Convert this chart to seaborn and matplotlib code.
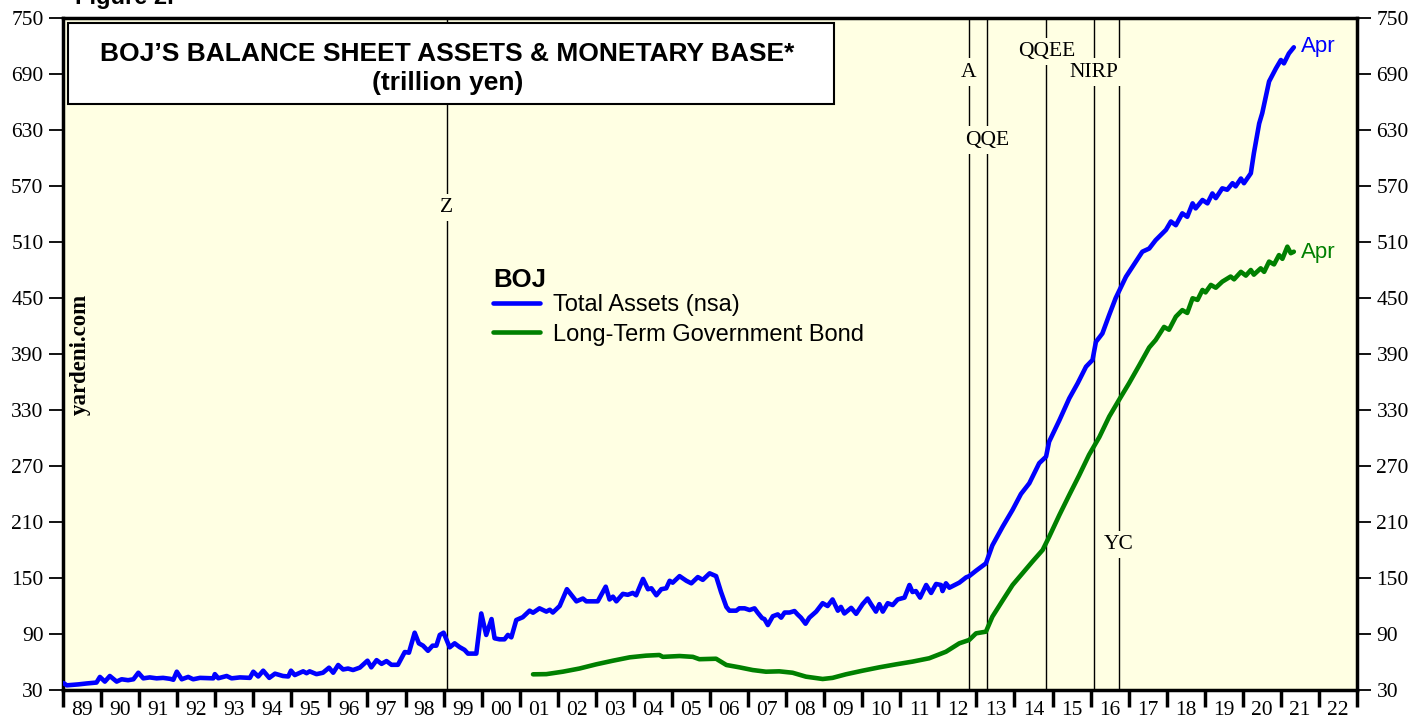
import matplotlib
matplotlib.use("Agg")
import matplotlib.pyplot as plt
import seaborn as sns
import pandas as pd
from matplotlib.patches import Rectangle

# ---------------- data ----------------
assets_year = [
    1989.01, 1989.10, 1989.40, 1989.62, 1989.88, 1989.97, 1990.10, 1990.23, 1990.41, 1990.54,
    1990.71, 1990.85, 1990.98, 1991.11, 1991.28, 1991.46, 1991.63, 1991.81, 1991.90, 1991.99,
    1992.12, 1992.29, 1992.42, 1992.60, 1992.95, 1992.99, 1993.08, 1993.30, 1993.43, 1993.65,
    1993.91, 1994.00, 1994.13, 1994.26, 1994.42, 1994.57, 1994.78, 1994.92, 1994.99, 1995.09,
    1995.31, 1995.40, 1995.48, 1995.66, 1995.83, 1995.99, 1996.10, 1996.23, 1996.36, 1996.49,
    1996.62, 1996.80, 1997.00, 1997.10, 1997.24, 1997.37, 1997.50, 1997.63, 1997.80, 1997.98,
    1998.09, 1998.24, 1998.35, 1998.46, 1998.59, 1998.71, 1998.81, 1998.90, 1999.00, 1999.16,
    1999.29, 1999.42, 1999.55, 1999.64, 1999.86, 1999.99, 2000.12, 2000.26, 2000.34, 2000.47,
    2000.60, 2000.69, 2000.78, 2000.91, 2001.08, 2001.26, 2001.35, 2001.52, 2001.70, 2001.79,
    2001.87, 2002.05, 2002.24, 2002.49, 2002.66, 2002.75, 2003.05, 2003.26, 2003.36, 2003.45,
    2003.54, 2003.71, 2003.84, 2003.97, 2004.06, 2004.24, 2004.37, 2004.46, 2004.59, 2004.72,
    2004.85, 2004.94, 2005.02, 2005.20, 2005.38, 2005.51, 2005.68, 2005.81, 2005.99, 2006.16,
    2006.29, 2006.43, 2006.51, 2006.69, 2006.77, 2006.91, 2007.04, 2007.17, 2007.25, 2007.37,
    2007.43, 2007.52, 2007.65, 2007.78, 2007.87, 2007.96, 2008.09, 2008.22, 2008.30, 2008.39,
    2008.51, 2008.61, 2008.79, 2008.96, 2009.09, 2009.22, 2009.36, 2009.44, 2009.53, 2009.71,
    2009.84, 2010.01, 2010.14, 2010.23, 2010.36, 2010.45, 2010.54, 2010.67, 2010.80, 2010.93,
    2011.11, 2011.24, 2011.32, 2011.41, 2011.52, 2011.68, 2011.81, 2011.94, 2012.07, 2012.11,
    2012.20, 2012.29, 2012.55, 2012.73, 2012.81, 2012.99, 2013.25, 2013.42, 2013.69, 2013.95,
    2014.17, 2014.39, 2014.65, 2014.83, 2014.91, 2015.18, 2015.44, 2015.66, 2015.88, 2016.05,
    2016.14, 2016.31, 2016.49, 2016.66, 2016.93, 2017.19, 2017.36, 2017.54, 2017.71, 2017.98,
    2018.11, 2018.24, 2018.41, 2018.54, 2018.68, 2018.76, 2018.94, 2019.07, 2019.20, 2019.29,
    2019.46, 2019.59, 2019.73, 2019.81, 2019.95, 2020.03, 2020.21, 2020.29, 2020.43, 2020.51,
    2020.69, 2020.87, 2021.00, 2021.08, 2021.21, 2021.34,
]
assets_val = [
    37.5, 35, 36, 37, 38, 44, 39, 45, 39, 41.5,
    40.5, 41.5, 48.5, 42.5, 43.5, 42.5, 43, 42, 41, 49.6,
    41.5, 44, 41.5, 43, 42.5, 47, 42.6, 45, 42.5, 43.5,
    43, 49.6, 44.5, 50.7, 43, 47.5, 45, 44.5, 50.7, 46,
    50, 48, 50, 47, 48.5, 53.9, 48.5, 56.8, 52, 53,
    51.4, 54, 61.4, 54.3, 62, 58, 61, 57, 57, 70.7,
    70, 91.4, 80, 77.5, 72, 77.5, 77.5, 89, 91.4, 75.7,
    80, 76, 73, 69, 69, 112, 89, 106, 85.4, 84.3,
    84.3, 89, 86.4, 105, 108, 115, 112.8, 117.5, 114, 116,
    113, 120, 138, 125, 128, 125, 125, 140.7, 127, 130,
    125, 133, 132, 134, 131.5, 149, 138, 139, 131.5, 138,
    139, 147, 145, 152, 147, 144.3, 151, 148, 155, 152,
    135, 119, 115, 115, 117.5, 117.5, 115.7, 117.5, 113, 107,
    106, 99.6, 109, 111, 107.5, 113, 113, 114.6, 111, 107.5,
    101, 107.5, 114, 123, 120, 127, 115, 119, 112, 118,
    111.6, 122, 128, 122, 114, 122, 114, 123, 121, 127,
    129, 142.5, 135, 136, 129, 142.5, 134, 143.6, 142.5, 136,
    144.3, 139.6, 145, 150.7, 152, 157.8, 165.7, 185, 205, 223,
    240, 251.5, 273, 280, 296, 319, 342.5, 358.6, 376.4, 383.6,
    403, 412, 432, 450, 472.8, 489, 499.6, 503, 512, 523,
    532, 528, 540.7, 537, 551.4, 546, 555, 551.4, 562, 557,
    567.5, 566, 573, 569.6, 578, 573, 583.6, 605, 637, 648,
    682, 696, 705, 701.4, 712, 718.6,
]

bond_year = [
    2001.35, 2001.70, 2002.13, 2002.57, 2003.01, 2003.45, 2003.89, 2004.32, 2004.67, 2004.76,
    2005.20, 2005.55, 2005.72, 2006.16, 2006.43, 2006.77, 2007.12, 2007.47, 2007.82, 2008.17,
    2008.52, 2008.96, 2009.22, 2009.57, 2010.01, 2010.45, 2010.89, 2011.32, 2011.76, 2012.20,
    2012.55, 2012.81, 2012.99, 2013.25, 2013.42, 2013.69, 2013.95, 2014.21, 2014.47, 2014.74,
    2014.91, 2015.18, 2015.44, 2015.70, 2015.96, 2016.23, 2016.49, 2016.75, 2017.01, 2017.28,
    2017.54, 2017.71, 2017.93, 2018.06, 2018.24, 2018.41, 2018.54, 2018.68, 2018.81, 2018.94,
    2019.02, 2019.16, 2019.29, 2019.46, 2019.68, 2019.77, 2019.95, 2020.08, 2020.21, 2020.29,
    2020.47, 2020.56, 2020.69, 2020.82, 2020.95, 2021.04, 2021.17, 2021.26, 2021.34,
]
bond_val = [
    46.8, 47, 49.6, 53, 57.5, 61.4, 65, 66.8, 67.5, 65.5,
    66.4, 65.5, 63, 63.5, 56.8, 54.3, 51.4, 49.6, 50, 48.5,
    44.3, 41.8, 43, 46.8, 50.7, 54.3, 57.5, 60.4, 64, 71,
    80, 83.6, 90.7, 92.5, 108.6, 126, 142.5, 155, 167.5, 180,
    194, 217.5, 239, 260, 282, 301, 323, 341, 358.6, 378,
    397, 405, 419, 416, 430, 437, 434, 449.7, 448, 458.6,
    456, 464, 461, 467.5, 473, 470, 478, 474, 480, 475,
    481.8, 478, 489, 486, 496, 492, 505, 498, 499.6,
]

year_labels = ["89", "90", "91", "92", "93", "94", "95", "96", "97", "98", "99", "00",
               "01", "02", "03", "04", "05", "06", "07", "08", "09", "10", "11", "12",
               "13", "14", "15", "16", "17", "18", "19", "20", "21", "22"]
first_year = 1989
y_ticks = [30, 90, 150, 210, 270, 330, 390, 450, 510, 570, 630, 690, 750]

event_names = ["Z", "A", "QQE", "QQEE", "NIRP", "YC"]
event_dates = [1999.08, 2012.80, 2013.27, 2014.84, 2016.09, 2016.75]
event_label_y = [547, 692, 619, 714, 692, 186]

series_names = ["Total Assets (nsa)", "Long-Term Government Bond"]
series_colors = ["#0000FF", "#008000"]

# ---------------- figure ----------------
sns.set_style("ticks")
plt.rcParams["font.family"] = ["Liberation Sans", "DejaVu Sans"]
plt.rcParams["text.color"] = "black"
plt.rcParams["xtick.color"] = "black"
plt.rcParams["ytick.color"] = "black"
plt.rcParams["axes.labelcolor"] = "black"

BG = "#FFFFE3"
fig = plt.figure(figsize=(14.18, 7.19), dpi=100)
ax = fig.add_axes([63 / 1418, 29 / 719, 1294 / 1418, 672 / 719])
ax.set_facecolor(BG)

df_a = pd.DataFrame({"year": assets_year, "value": assets_val, "series": series_names[0]})
df_b = pd.DataFrame({"year": bond_year, "value": bond_val, "series": series_names[1]})
df = pd.concat([df_a, df_b], ignore_index=True)

sns.lineplot(data=df, x="year", y="value", hue="series", palette=series_colors,
             hue_order=series_names, estimator=None, sort=False, lw=3.3, ax=ax,
             zorder=5, legend=False)

x0, x1 = first_year, first_year + len(year_labels)
ax.set_xlim(x0, x1)
ax.set_ylim(30, 750)
ax.set_xlabel("")
ax.set_ylabel("")

serif = ["Liberation Serif", "DejaVu Serif"]
TICK_FS = 15.5

# x ticks: major at year boundaries, labels at mid-year
ax.set_xticks([first_year + i for i in range(len(year_labels) + 1)])
ax.set_xticklabels([])
ax.set_xticks([first_year + i + 0.5 for i in range(len(year_labels))], minor=True)
ax.set_xticklabels(year_labels, minor=True, fontfamily=serif, fontsize=TICK_FS)
ax.tick_params(axis="x", which="major", length=12, width=2.5, direction="out")
ax.tick_params(axis="x", which="minor", length=0, pad=8)

ax.set_yticks(y_ticks)
ax.set_yticklabels([str(v) for v in y_ticks], fontfamily=serif, fontsize=TICK_FS)
ax.tick_params(axis="y", which="major", length=10, width=1.3, pad=4, left=True, right=True,
               labelleft=True, labelright=True)
for lab in ax.get_yticklabels(which="both"):
    lab.set_fontfamily(serif)
    lab.set_fontsize(TICK_FS)
for s in ax.spines.values():
    s.set_visible(True)
    s.set_linewidth(2.5)
    s.set_color("black")

# vertical event lines with labels
for name, d, ly in zip(event_names, event_dates, event_label_y):
    ax.axvline(d, color="black", lw=1.0, zorder=2)
    ax.text(d, ly, name, ha="center", va="center", fontfamily=serif, fontsize=15.5,
            zorder=3, bbox=dict(boxstyle="square,pad=0.2", fc=BG, ec="none"))

# title box
ax.add_patch(Rectangle((0.004, 0.872), 0.592, 0.1205, transform=ax.transAxes,
                       facecolor="white", edgecolor="black", lw=1.5, zorder=8))
ax.text(0.297, 0.946, "BOJ\u2019S BALANCE SHEET ASSETS & MONETARY BASE*", transform=ax.transAxes,
        ha="center", va="center", fontsize=19, fontweight="bold", zorder=9)
ax.text(0.297, 0.904, "(trillion yen)", transform=ax.transAxes,
        ha="center", va="center", fontsize=19, fontweight="bold", zorder=9)

# legend
handles = [plt.Line2D([], [], color=c, lw=3.3) for c in series_colors]
leg = ax.legend(handles, series_names, title="BOJ", loc="upper left",
                bbox_to_anchor=(0.3305, 0.632), frameon=False, fontsize=17,
                handlelength=2.0, handletextpad=0.55, labelspacing=0.3,
                borderaxespad=0, borderpad=0.1,
                title_fontproperties={"weight": "bold", "size": 18.5})
leg._legend_box.align = "left"
leg._legend_box.sep = 2
leg.set_zorder(10)

# end labels
ax.text(2021.53, 719, "Apr", color=series_colors[0], fontsize=16, ha="left", va="center", zorder=9)
ax.text(2021.53, 499, "Apr", color=series_colors[1], fontsize=16, ha="left", va="center", zorder=9)

# watermark
ax.text(0.013, 0.50, "yardeni.com", transform=ax.transAxes, rotation=90, ha="center",
        va="center", fontfamily=serif, fontweight="bold", fontsize=16.5, zorder=9)

# clipped figure caption
fig.text(0.053, 1.004, "Figure 2.", ha="left", va="center", fontsize=17, fontweight="bold")

fig.savefig("out.png", dpi=100, facecolor="white")
